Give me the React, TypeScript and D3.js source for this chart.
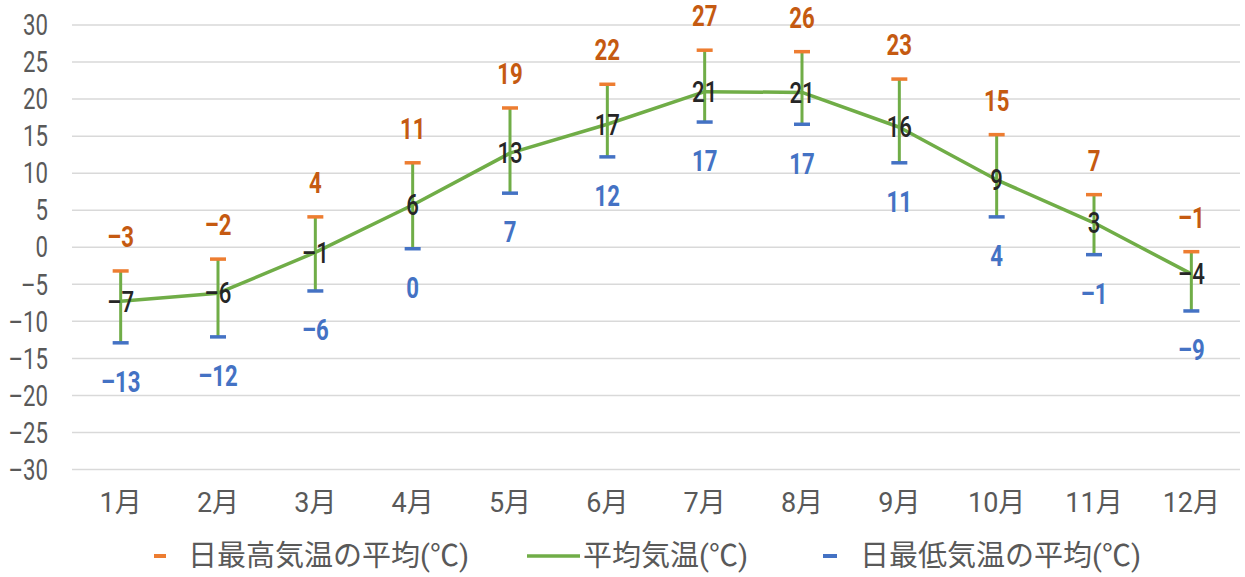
import React from "react";
import * as d3 from "d3";

// 月別の気温データ
const months = ["1月", "2月", "3月", "4月", "5月", "6月", "7月", "8月", "9月", "10月", "11月", "12月"];
const maxTemp = [-3.2, -1.6, 4.1, 11.4, 18.8, 22.0, 26.6, 26.4, 22.7, 15.2, 7.1, -0.6];
const avgTemp = [-7.3, -6.2, -0.7, 5.7, 12.7, 16.6, 21.0, 20.9, 16.2, 9.1, 3.3, -3.6];
const minTemp = [-12.9, -12.1, -5.9, -0.2, 7.3, 12.2, 16.9, 16.6, 11.4, 4.1, -1.0, -8.6];
const yTicks = [-30, -25, -20, -15, -10, -5, 0, 5, 10, 15, 20, 25, 30];
const legendLabels = ["日最高気温の平均(℃)", "平均気温(℃)", "日最低気温の平均(℃)"];

const W = 1245;
const H = 577;
const FONT = "Roboto, 'Noto Sans CJK JP', sans-serif";
const SQUEEZE = 0.74;

const ORANGE = "#ED7D31";
const ORANGE_TEXT = "#C55A11";
const GREEN = "#70AD47";
const BLUE = "#4472C4";

const fmt = (v: number) => {
  const r = Math.round(v);
  return r < 0 ? "\u2013" + Math.abs(r) : String(r);
};

// condensed text, the original uses a narrow font
const Narrow = ({ x, y, anchor = "middle", children, ...rest }: any) => (
  <text
    transform={`translate(${x},${y}) scale(${SQUEEZE},1)`}
    textAnchor={anchor}
    dominantBaseline="central"
    {...rest}
  >
    {children}
  </text>
);

export default function App() {
  const x = d3.scaleBand<string>().domain(months).range([72, 1240]);
  const y = d3.scaleLinear().domain([-30, 30]).range([469.5, 25]);
  const cx = (m: string) => (x(m) ?? 0) + x.bandwidth() / 2;

  const line = d3
    .line<number>()
    .x((_, i) => cx(months[i]))
    .y((d) => y(d));

  return (
    <svg width={W} height={H} style={{ position: "absolute", left: 0, top: 0, fontFamily: FONT }}>
      <rect width={W} height={H} fill="#fff" />
      {/* grid + y axis */}
      {yTicks.map((t) => (
        <g key={t}>
          <line x1={72} x2={1240} y1={y(t)} y2={y(t)} stroke="#D9D9D9" strokeWidth={1.5} />
          <Narrow x={48} y={y(t)} anchor="end" fontSize={30} fill="#595959">
            {fmt(t)}
          </Narrow>
        </g>
      ))}
      {/* x axis labels */}
      {months.map((m) => (
        <text key={m} x={cx(m)} y={503} textAnchor="middle" dominantBaseline="central" fontSize={27} fill="#595959">
          {m}
        </text>
      ))}
      {/* high-low lines */}
      {months.map((m, i) => (
        <line key={m} x1={cx(m)} x2={cx(m)} y1={y(maxTemp[i])} y2={y(minTemp[i])} stroke={GREEN} strokeWidth={3} />
      ))}
      <path d={line(avgTemp) ?? ""} fill="none" stroke={GREEN} strokeWidth={3.5} strokeLinejoin="round" />
      {/* markers */}
      {months.map((m, i) => (
        <g key={m}>
          <line x1={cx(m) - 8} x2={cx(m) + 8} y1={y(maxTemp[i])} y2={y(maxTemp[i])} stroke={ORANGE} strokeWidth={3.5} />
          <line x1={cx(m) - 8} x2={cx(m) + 8} y1={y(minTemp[i])} y2={y(minTemp[i])} stroke={BLUE} strokeWidth={3.5} />
        </g>
      ))}
      {/* data labels */}
      {months.map((m, i) => (
        <g key={m} fontSize={30}>
          <Narrow x={cx(m)} y={y(maxTemp[i]) - 34} fill={ORANGE_TEXT} fontWeight="bold">
            {fmt(maxTemp[i])}
          </Narrow>
          <Narrow x={cx(m)} y={y(avgTemp[i])} fill="#262626" fontWeight={500}>
            {fmt(avgTemp[i])}
          </Narrow>
          <Narrow x={cx(m)} y={y(minTemp[i]) + 39} fill={BLUE} fontWeight="bold">
            {fmt(minTemp[i])}
          </Narrow>
        </g>
      ))}
      {/* legend */}
      <g fontSize={29} fill="#595959" dominantBaseline="central">
        <line x1={154} x2={166} y1={556} y2={556} stroke={ORANGE} strokeWidth={4} />
        <text x={188} y={556}>{legendLabels[0]}</text>
        <line x1={527} x2={580} y1={556} y2={556} stroke={GREEN} strokeWidth={3.5} />
        <text x={583} y={556}>{legendLabels[1]}</text>
        <line x1={823} x2={837} y1={556} y2={556} stroke={BLUE} strokeWidth={4} />
        <text x={860} y={556}>{legendLabels[2]}</text>
      </g>
    </svg>
  );
}
